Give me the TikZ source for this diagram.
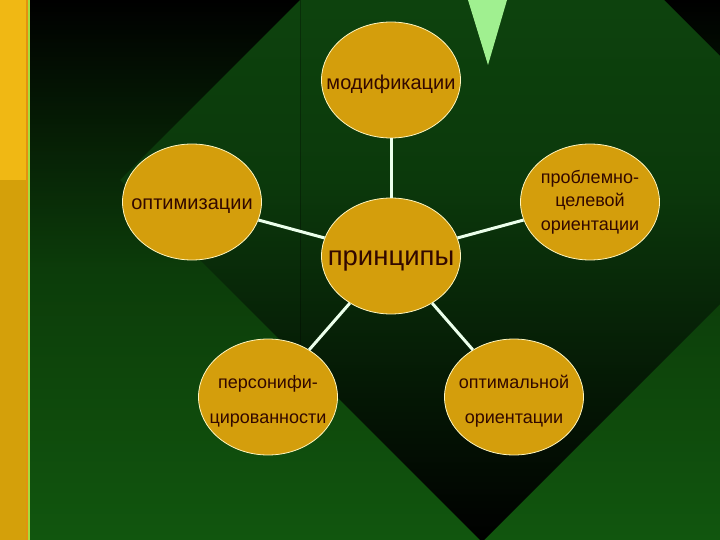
\documentclass[tikz,border=0pt]{standalone}
\usepackage{fontspec}
\setmainfont{Liberation Sans}
\usetikzlibrary{shapes.geometric}

\definecolor{stripetop}{RGB}{240,184,20}
\definecolor{stripebot}{RGB}{212,160,10}
\definecolor{stripeedge}{RGB}{226,146,16}
\definecolor{bggreen}{RGB}{17,86,14}
\definecolor{diagreen}{RGB}{15,76,15}
\definecolor{ovalfill}{RGB}{212,158,12}
\definecolor{ovalrim}{RGB}{255,245,190}
\definecolor{textbrown}{RGB}{50,8,0}
\definecolor{linkwhite}{RGB}{235,255,235}
\definecolor{tipgreen}{RGB}{160,240,144}

\tikzset{
    oval/.style={ellipse, fill=ovalfill, draw=ovalrim, line width=0.8pt,
        minimum width=139pt, minimum height=116pt, inner sep=0pt},
    ovaltext/.style={text=textbrown, align=center, inner sep=0pt, yshift=-4pt,
        font=\fontsize{20}{23.5}\selectfont},
    link/.style={draw=linkwhite, line width=3pt}
}

\begin{document}
\begin{tikzpicture}[x=1pt, y=-1pt]
    \useasboundingbox (0,0) rectangle (720,540);
    \begin{scope}
        \clip (0,0) rectangle (720,540);
        % background and diamond
        \shade[top color=black, bottom color=bggreen, middle color=bggreen!70!black]
            (30,0) rectangle (720,540);
        \shade[top color=diagreen, bottom color=black, middle color=diagreen!75!black]
            (120,180) -- (482,-182) -- (844,180) -- (482,542) -- cycle;
        \draw[black, opacity=0.3, line width=1pt] (300,0) -- (300,345);
        \fill[tipgreen] (468,0) -- (507,0) -- (488,65) -- cycle;
        % left stripe
        \fill[stripetop] (0,0) rectangle (27,180);
        \fill[stripebot] (0,180) rectangle (27,540);
        \fill[stripeedge] (26,0) rectangle (28,540);
        \fill[stripetop!60!green!80!white] (28,0) rectangle (30,540);
    \end{scope}

    % the ovals
    \node[oval] (modif) at (391,80) {};
    \node[oval] (optim) at (192,202) {};
    \node[oval] (probl) at (590,202) {};
    \node[oval] (princ) at (391,256) {};
    \node[oval] (person) at (268,397) {};
    \node[oval] (optor) at (514,397) {};

    \node[ovaltext] at (modif) {модификации};
    \node[ovaltext] at (optim) {оптимизации};
    \node[ovaltext, yshift=4pt, font=\fontsize{18}{23.5}\selectfont] at (probl) {проблемно-\\целевой\\ориентации};
    \node[ovaltext, yshift=-1pt, font=\fontsize{27.5}{30}\selectfont] at (princ) {принципы};
    \node[ovaltext, font=\fontsize{18}{35}\selectfont] at (person) {персонифи-\\цированности};
    \node[ovaltext, font=\fontsize{18}{35}\selectfont] at (optor) {оптимальной\\ориентации};

    % links
    \foreach \n in {modif, optim, probl, person, optor}
        \draw[link] (princ) -- (\n);
\end{tikzpicture}
\end{document}
